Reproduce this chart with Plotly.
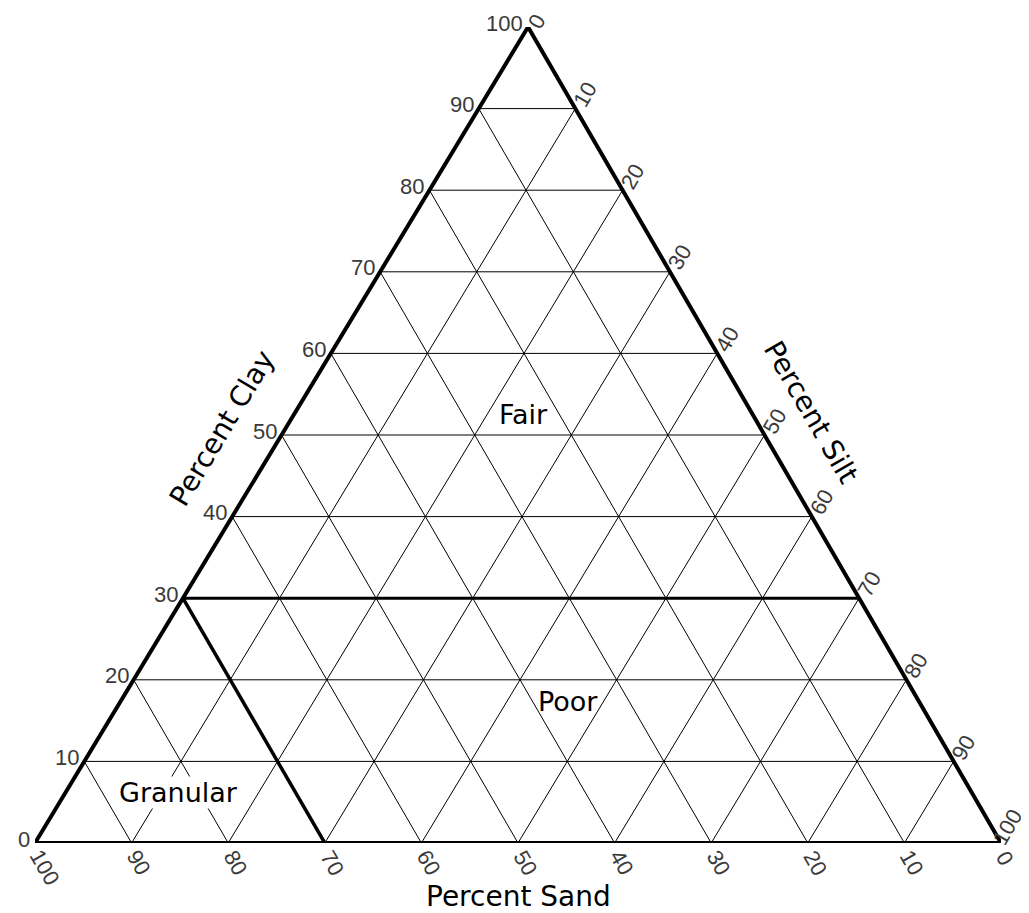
import plotly.graph_objects as go

# percent levels
tick_values = [0, 10, 20, 30, 40, 50, 60, 70, 80, 90, 100]
grid_levels = [10, 20, 30, 40, 50, 60, 70, 80, 90]

# outline and class boundaries as (clay, sand, silt) compositions
outline_clay = [0, 0, 100, 0]
outline_sand = [100, 0, 0, 100]
outline_silt = [0, 100, 0, 0]

clay30_clay = [30, 30]
clay30_sand = [70, 0]
clay30_silt = [0, 70]

sand70_clay = [30, 0]
sand70_sand = [70, 70]
sand70_silt = [0, 30]

# region labels
region_names = ["Fair", "Poor", "Granular"]
region_clay = [52.5, 17.4, 6.2]
region_sand = [23.7, 36.3, 82.1]
region_silt = [23.8, 46.3, 11.7]

APEX = 0.5104  # horizontal position of the clay apex along the base

# figure geometry (the page puts the figure 8px in from the top-left corner)
FIG_W, FIG_H = 1021, 905
X0, X1 = 27, 993   # plot area, px from left
Y0, Y1 = 835, 19   # plot area, px from top


def tx(clay, silt):
    return [None if c is None else s + APEX * c for c, s in zip(clay, silt)]


def ty(clay):
    return list(clay)


def to_px(x, y):
    return X0 + (X1 - X0) * x / 100, Y0 + (Y1 - Y0) * y / 100


# grid segments
gc, gs = [], []
for v in grid_levels:
    # constant clay
    gc += [v, v, None]
    gs += [0, 100 - v, None]
    # constant sand
    gc += [100 - v, 0, None]
    gs += [0, 100 - v, None]
    # constant silt
    gc += [100 - v, 0, None]
    gs += [v, v, None]

fig = go.Figure()

fig.add_trace(go.Scatter(x=tx(gc, gs), y=ty(gc), mode="lines",
                         line=dict(color="black", width=1), hoverinfo="skip"))
fig.add_trace(go.Scatter(x=tx(clay30_clay, clay30_silt), y=ty(clay30_clay), mode="lines",
                         line=dict(color="black", width=3), hoverinfo="skip"))
fig.add_trace(go.Scatter(x=tx(sand70_clay, sand70_silt), y=ty(sand70_clay), mode="lines",
                         line=dict(color="black", width=3.5), hoverinfo="skip"))
fig.add_trace(go.Scatter(x=tx(outline_clay, outline_silt), y=ty(outline_clay), mode="lines",
                         line=dict(color="black", width=4), hoverinfo="skip"))

tick_font = dict(family="Liberation Sans", size=22, color="#3a3a3a")


def keep_inside(x, y, dx, dy, n):
    # nudge a 60-degree rotated label so its box stays on the page
    hw = (n * 12.2 + 2) / 2
    hh = 13
    hx = hw * 0.5 + hh * 0.866
    hy = hw * 0.866 + hh * 0.5
    px, py = to_px(x, y)
    cx = min(max(px + dx, hx + 1), FIG_W - hx - 1)
    cy = min(max(py + dy, hy + 1), FIG_H - hy - 1)
    return cx - px, cy - py


ann = []
for v in tick_values:
    n = len(str(v))
    # clay: left edge, horizontal labels
    x = tx([v], [0])[0]
    ann.append(dict(x=x, y=v, text=str(v), showarrow=False, xanchor="right", yanchor="middle",
                    xshift=-4, yshift=4, font=tick_font, borderpad=0))
    # sand: bottom edge, labels running down-right
    d = 9.7 + 5.5 * n
    dx = d * 0.5 - 4 * 0.866
    dy = d * 0.866 + 4 * 0.5
    x = tx([0], [100 - v])[0]
    dx, dy = keep_inside(x, 0, dx, dy, n)
    ann.append(dict(x=x, y=0, text=str(v), showarrow=False, xanchor="center", yanchor="middle",
                    textangle=60, xshift=dx, yshift=-dy, font=tick_font, borderpad=0))
    # silt: right edge, labels running up-right
    d = 13 + 2 * n
    dx = d * 0.5 + 1.5 * 0.866
    dy = -d * 0.866 + 1.5 * 0.5
    x = tx([100 - v], [v])[0]
    dx, dy = keep_inside(x, 100 - v, dx, dy, n)
    ann.append(dict(x=x, y=100 - v, text=str(v), showarrow=False, xanchor="center", yanchor="middle",
                    textangle=-60, xshift=dx, yshift=-dy, font=tick_font, borderpad=0))

label_font = dict(family="DejaVu Sans", size=27, color="black")
for name, c, s in zip(region_names, region_clay, region_silt):
    ann.append(dict(x=tx([c], [s])[0], y=c, text=name, showarrow=False,
                    xanchor="center", yanchor="middle", font=label_font,
                    bgcolor="white" if name == "Granular" else None, borderpad=0))

title_font = dict(family="DejaVu Sans", size=28, color="black")
ann.append(dict(x=tx([50], [0])[0], y=50, text="Percent Clay", showarrow=False,
                textangle=-59, xshift=-60, yshift=7, font=title_font))
ann.append(dict(x=tx([50], [50])[0], y=50, text="Percent Silt", showarrow=False,
                textangle=60, xshift=47, yshift=23, font=title_font))
ann.append(dict(x=50, y=0, text="Percent Sand", showarrow=False,
                xshift=0, yshift=-53, font=title_font))

fig.update_layout(
    width=FIG_W, height=FIG_H,
    margin=dict(l=0, r=0, t=0, b=0),
    plot_bgcolor="white", paper_bgcolor="white",
    showlegend=False,
    annotations=ann,
    xaxis=dict(range=[0, 100], domain=[X0 / FIG_W, X1 / FIG_W], visible=False),
    yaxis=dict(range=[0, 100], domain=[(FIG_H - Y0) / FIG_H, (FIG_H - Y1) / FIG_H], visible=False),
)

fig.write_html("out.html")
